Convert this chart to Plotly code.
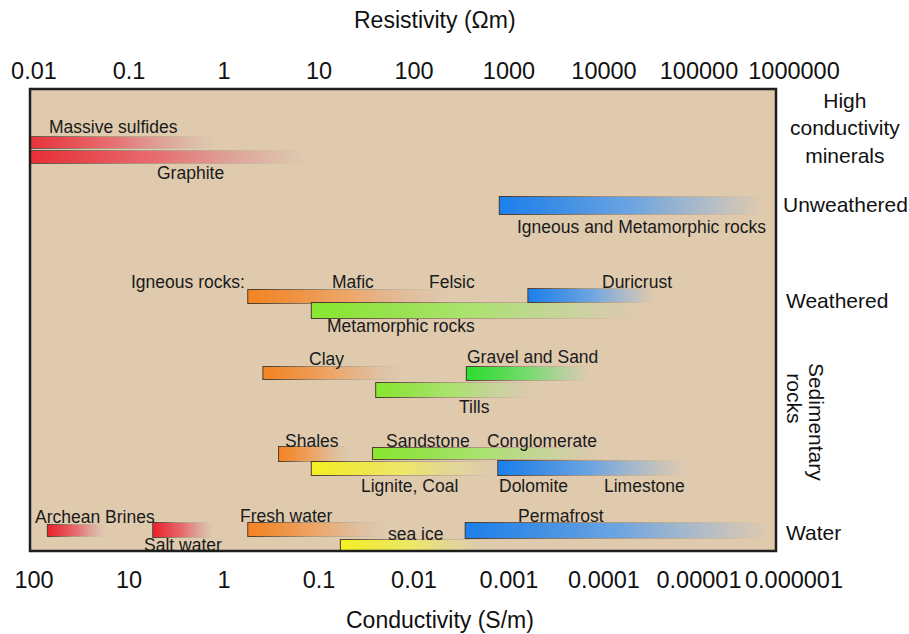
import math
import plotly.graph_objects as go

# ---------------- DATA ----------------
# Resistivity axis ticks (Ohm m) and the matching conductivity labels (S/m)
res_tick_values = [0.01, 0.1, 1, 10, 100, 1000, 10000, 100000, 1000000]
res_tick_text = ["0.01", "0.1", "1", "10", "100", "1000", "10000", "100000", "1000000"]
cond_tick_text = ["100", "10", "1", "0.1", "0.01", "0.001", "0.0001", "0.00001", "0.000001"]

# Resistivity ranges of each material bar (Ohm m): start (solid end) and end (faded end)
bar_names = ["Massive sulfides", "Graphite", "Unweathered igneous/metamorphic",
             "Igneous (mafic-felsic)", "Duricrust", "Metamorphic (weathered)",
             "Clay", "Gravel and Sand", "Tills",
             "Shales", "Sandstone-Conglomerate", "Lignite, Coal", "Dolomite-Limestone",
             "Archean Brines", "Salt water", "Fresh water", "Sea ice", "Permafrost"]
bar_start = [0.005, 0.005, 800, 1.8, 1600, 8.4, 2.6, 360, 40,
             3.8, 37, 8.4, 770, 0.014, 0.18, 1.8, 17, 350]
bar_end = [0.8, 7.5, 500000, 240, 34000, 24000, 77, 7100, 1800,
           21, 9100, 800, 71000, 0.056, 0.77, 50, 630, 560000]

# Group headings on the right
group_names = ["High<br>conductivity<br>minerals", "Unweathered", "Weathered", "Water"]

# ---------------- STYLE / LAYOUT ----------------
RED = (236, 34, 44)
BLUE = (28, 128, 236)
ORANGE = (246, 132, 34)
LIME = (136, 232, 48)
GREEN = (44, 222, 44)
YELLOW = (246, 240, 36)
DARK = (45, 32, 22)

# lane (row) centre and thickness in row units (frame spans 0..23.1)
BAR_STYLE = {
    "Massive sulfides": (2.68, 0.55, RED),
    "Graphite": (3.4, 0.6, RED),
    "Unweathered igneous/metamorphic": (5.83, 0.85, BLUE),
    "Igneous (mafic-felsic)": (10.38, 0.65, ORANGE),
    "Duricrust": (10.33, 0.65, BLUE),
    "Metamorphic (weathered)": (11.08, 0.75, LIME),
    "Clay": (14.2, 0.6, ORANGE),
    "Gravel and Sand": (14.23, 0.65, GREEN),
    "Tills": (15.05, 0.7, LIME),
    "Shales": (18.25, 0.7, ORANGE),
    "Sandstone-Conglomerate": (18.23, 0.55, LIME),
    "Lignite, Coal": (18.98, 0.65, YELLOW),
    "Dolomite-Limestone": (18.95, 0.7, BLUE),
    "Archean Brines": (22.08, 0.55, RED),
    "Salt water": (22.05, 0.7, RED),
    "Fresh water": (22.03, 0.65, ORANGE),
    "Sea ice": (22.9, 0.7, YELLOW),
    "Permafrost": (22.08, 0.75, BLUE),
}

# in-chart labels: text, resistivity position, row, anchor
LABELS = [
    ("Massive sulfides", 0.069, 1.9, "center"),
    ("Graphite", 0.44, 4.2, "center"),
    ("Igneous and Metamorphic rocks", 25000, 6.9, "center"),
    ("Igneous rocks:", 1.75, 9.65, "right"),
    ("Mafic", 23, 9.65, "center"),
    ("Felsic", 250, 9.65, "center"),
    ("Duricrust", 22000, 9.65, "center"),
    ("Metamorphic rocks", 73, 11.85, "center"),
    ("Clay", 12, 13.5, "center"),
    ("Gravel and Sand", 1750, 13.4, "center"),
    ("Tills", 430, 15.9, "center"),
    ("Shales", 8.4, 17.6, "center"),
    ("Sandstone", 140, 17.6, "center"),
    ("Conglomerate", 2200, 17.6, "center"),
    ("Lignite, Coal", 89, 19.85, "center"),
    ("Dolomite", 1830, 19.85, "center"),
    ("Limestone", 27000, 19.85, "center"),
    ("Archean Brines", 0.044, 21.4, "center"),
    ("Salt water", 0.37, 22.8, "center"),
    ("Fresh water", 4.6, 21.35, "center"),
    ("sea ice", 103, 22.25, "center"),
    ("Permafrost", 3500, 21.35, "center"),
]

FONT = "Liberation Sans, Arial, sans-serif"
BG = "#dfcaae"
X_RANGE = [-2.042, 6.379]
Y_RANGE = [23.1, 0]
FRAME_RIGHT = 0.9325  # paper fraction of the framed panel


def rgba(c, a):
    return f"rgba({c[0]},{c[1]},{c[2]},{a})"


def tint(c, f):
    return tuple(int(round(v + (255 - v) * f)) for v in c)


fig = go.Figure()

px_x = 10 ** (1 / 95.0)   # one pixel horizontally (multiplicative on log axis)
px_y = 0.05               # one pixel vertically in row units

for name, s, e in zip(bar_names, bar_start, bar_end):
    row, th, col = BAR_STYLE[name]
    y0, y1 = row - th / 2, row + th / 2
    # dark outline that fades with the bar
    ox0 = s / px_x
    fig.add_trace(go.Scatter(
        x=[ox0, e, e, ox0, ox0],
        y=[y0 - px_y, y0 - px_y, y1 + px_y, y1 + px_y, y0 - px_y],
        fill="toself", mode="lines", line=dict(width=0),
        fillgradient=dict(type="horizontal",
                          colorscale=[[0, rgba(DARK, 0.85)], [0.45, rgba(DARK, 0.3)],
                                      [1, rgba(DARK, 0)]]),
        hoverinfo="skip", showlegend=False))
    fig.add_trace(go.Scatter(
        x=[s, e, e, s, s], y=[y0, y0, y1, y1, y0],
        fill="toself", mode="lines", line=dict(width=0),
        fillgradient=dict(type="horizontal",
                          colorscale=[[0, rgba(col, 1)],
                                      [0.5, rgba(tint(col, 0.3), 0.85)],
                                      [0.8, rgba(tint(col, 0.55), 0.45)],
                                      [1, rgba(tint(col, 0.7), 0)]]),
        name=name, hoverinfo="name", showlegend=False))

# dummy trace for the top (resistivity) axis
fig.add_trace(go.Scatter(x=[1], y=[0], xaxis="x2", mode="markers",
                         marker=dict(opacity=0), hoverinfo="skip", showlegend=False))

annotations = []
for text, xr, row, anchor in LABELS:
    annotations.append(dict(text=text, x=math.log10(xr), y=row, xref="x", yref="y",
                            xanchor=anchor, yanchor="middle", showarrow=False,
                            font=dict(family=FONT, size=17.5, color="#1a1a1a")))

# right-hand group headings (paper coords)
for text, x, y in zip(group_names, [1.019, 1.019, 1.009, 0.979], [0.915, 0.749, 0.543, 0.041]):
    annotations.append(dict(text=text, x=x, y=y, xref="paper", yref="paper",
                            xanchor="center", yanchor="middle", showarrow=False,
                            font=dict(family=FONT, size=21, color="#111")))
annotations.append(dict(text="Sedimentary", x=0.984, y=0.279, xref="paper", yref="paper",
                        textangle=90, showarrow=False, xanchor="center", yanchor="middle",
                        font=dict(family=FONT, size=21, color="#111")))
annotations.append(dict(text="rocks", x=0.956, y=0.331, xref="paper", yref="paper",
                        textangle=90, showarrow=False, xanchor="center", yanchor="middle",
                        font=dict(family=FONT, size=21, color="#111")))

# axis titles
annotations.append(dict(text="Resistivity (Ωm)", x=0.506, y=1.149, xref="paper", yref="paper",
                        showarrow=False, xanchor="center", yanchor="middle",
                        font=dict(family=FONT, size=23, color="#111")))
annotations.append(dict(text="Conductivity (S/m)", x=0.5125, y=-0.149, xref="paper", yref="paper",
                        showarrow=False, xanchor="center", yanchor="middle",
                        font=dict(family=FONT, size=23, color="#111")))

shapes = [
    dict(type="rect", xref="paper", yref="paper", x0=0, x1=FRAME_RIGHT, y0=0, y1=1,
         fillcolor=BG, line=dict(width=0), layer="below"),
    dict(type="rect", xref="paper", yref="paper", x0=0, x1=FRAME_RIGHT, y0=0, y1=1,
         fillcolor="rgba(0,0,0,0)", line=dict(color="#1e1e1e", width=2.5), layer="above"),
]

axis_font = dict(family=FONT, size=23.5, color="#111")
fig.update_layout(
    width=909, height=634,
    margin=dict(l=30, r=79, t=89, b=83, autoexpand=False),
    paper_bgcolor="white", plot_bgcolor="white",
    showlegend=False,
    hovermode="closest",
    xaxis=dict(type="log", range=X_RANGE, tickvals=res_tick_values, ticktext=cond_tick_text,
               showgrid=False, zeroline=False, showline=False, ticks="", automargin=False,
               ticklabelstandoff=12, tickfont=axis_font, fixedrange=True),
    xaxis2=dict(type="log", range=X_RANGE, tickvals=res_tick_values, ticktext=res_tick_text,
                overlaying="x", side="top", showgrid=False, zeroline=False, showline=False,
                ticks="", automargin=False, ticklabelstandoff=4,
                tickfont=axis_font, fixedrange=True),
    yaxis=dict(range=Y_RANGE, visible=False, fixedrange=True, automargin=False),
    annotations=annotations,
    shapes=shapes,
)

fig.write_html("out.html",
               config={"displayModeBar": False},
               post_script="document.body.style.margin='0';document.body.style.overflow='hidden';")
